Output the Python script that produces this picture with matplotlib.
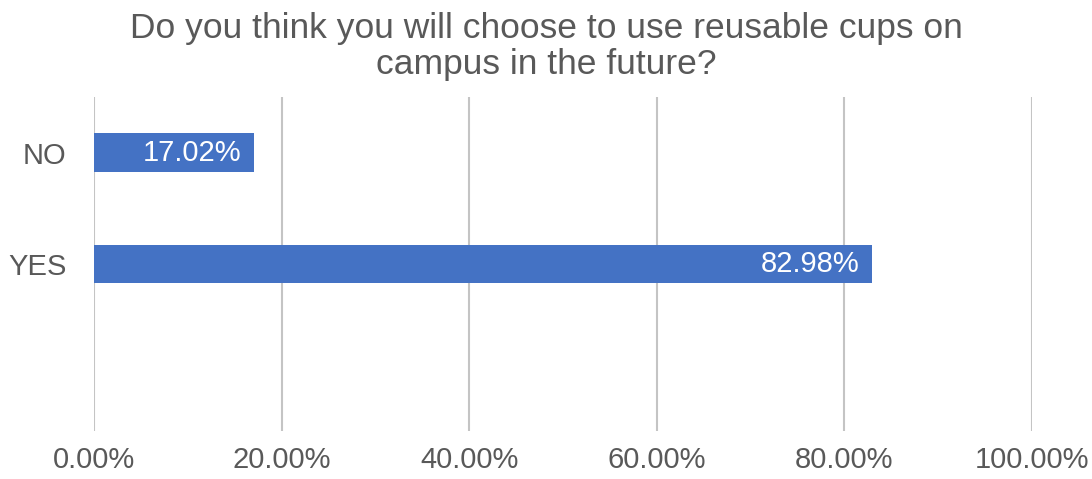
import matplotlib
matplotlib.use('Agg')
import matplotlib.pyplot as plt
from matplotlib.ticker import FuncFormatter

plt.rcParams['font.family'] = ['Liberation Sans', 'DejaVu Sans']

categories = ['NO', 'YES']
shares = [17.02, 82.98]
x_ticks = [0, 20, 40, 60, 80, 100]
title = 'Do you think you will choose to use reusable cups on\ncampus in the future?'

bar_color = '#4472C4'
text_color = '#595959'

fig = plt.figure(figsize=(10.92, 4.79), dpi=100)
ax = fig.add_axes([94 / 1092, 1 - 431 / 479, (1032 - 94) / 1092, (431 - 97) / 479])

ypos = list(range(len(categories)))
ax.barh(ypos, shares, height=0.35, color=bar_color, zorder=3)
for y, v in zip(ypos, shares):
    ax.annotate(f'{v:.2f}%', xy=(v, y), xytext=(-9, 0), textcoords='offset points',
                ha='right', va='center', color='white', fontsize=21, zorder=4)

ax.set_xlim(0, 100)
ax.set_ylim(2.5, -0.5)
ax.set_xticks(x_ticks)
ax.xaxis.set_major_formatter(FuncFormatter(lambda v, p: f'{v:.2f}%'))
ax.set_yticks(ypos)
ax.set_yticklabels(categories)
ax.tick_params(axis='both', length=0, labelsize=21, labelcolor=text_color)
ax.tick_params(axis='x', pad=11)
ax.tick_params(axis='y', pad=20)
ax.grid(axis='x', color='#C4C4C4', linewidth=1.5, zorder=0)
for s in ax.spines.values():
    s.set_visible(False)

fig.text(0.5, 1 - 12 / 479, title, ha='center', va='top', fontsize=25.5,
         color=text_color, linespacing=1.12)

fig.savefig('out.png', dpi=100)
